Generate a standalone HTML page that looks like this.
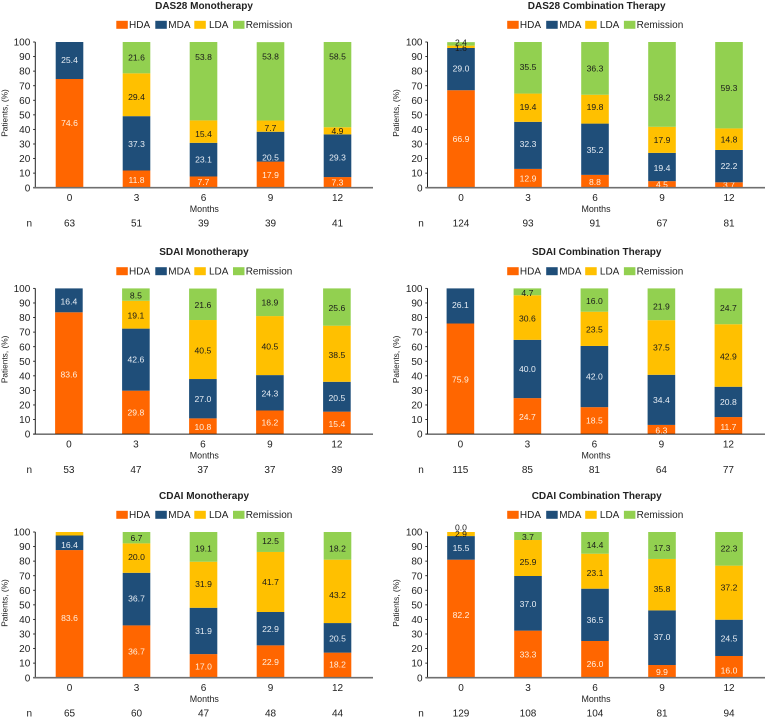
<!DOCTYPE html>
<html>
<head>
<meta charset="utf-8">
<title>Disease activity by therapy</title>
<style>
html,body{margin:0;padding:0;background:#fff;width:765px;height:719px;overflow:hidden}
svg{display:block;filter:blur(.3px)}
text{font-family:"Liberation Sans",Arial,sans-serif;fill:#222}
</style>
</head>
<body>
<svg id="figure" xmlns="http://www.w3.org/2000/svg" width="765" height="719" viewBox="0 0 765 719"></svg>
<script>
const months = ['0', '3', '6', '9', '12'];
const yTicks = [0, 10, 20, 30, 40, 50, 60, 70, 80, 90, 100];
const seriesNames = ['HDA', 'MDA', 'LDA', 'Remission'];

const dasMonoHda = [74.6, 11.8, 7.7, 17.9, 7.3];
const dasMonoMda = [25.4, 37.3, 23.1, 20.5, 29.3];
const dasMonoLda = [0, 29.4, 15.4, 7.7, 4.9];
const dasMonoRem = [0, 21.6, 53.8, 53.8, 58.5];
const dasMonoN = [63, 51, 39, 39, 41];

const dasComboHda = [66.9, 12.9, 8.8, 4.5, 3.7];
const dasComboMda = [29.0, 32.3, 35.2, 19.4, 22.2];
const dasComboLda = [1.6, 19.4, 19.8, 17.9, 14.8];
const dasComboRem = [2.4, 35.5, 36.3, 58.2, 59.3];
const dasComboN = [124, 93, 91, 67, 81];

const sdaiMonoHda = [83.6, 29.8, 10.8, 16.2, 15.4];
const sdaiMonoMda = [16.4, 42.6, 27.0, 24.3, 20.5];
const sdaiMonoLda = [0, 19.1, 40.5, 40.5, 38.5];
const sdaiMonoRem = [0, 8.5, 21.6, 18.9, 25.6];
const sdaiMonoN = [53, 47, 37, 37, 39];

const sdaiComboHda = [75.9, 24.7, 18.5, 6.3, 11.7];
const sdaiComboMda = [24.1, 40.0, 42.0, 34.4, 20.8];
const sdaiComboLda = [0, 30.6, 23.5, 37.5, 42.9];
const sdaiComboRem = [0, 4.7, 16.0, 21.9, 24.7];
const sdaiComboN = [115, 85, 81, 64, 77];
const sdaiComboPrintedMonth0 = ['75.9', '26.1', '', ''];

const cdaiMonoHda = [87.6, 35.9, 16.2, 22.2, 17.2];
const cdaiMonoMda = [10.0, 36.1, 31.8, 22.9, 20.3];
const cdaiMonoLda = [2.4, 20.2, 31.6, 41.2, 43.5];
const cdaiMonoRem = [0, 7.8, 20.4, 13.7, 19.0];
const cdaiMonoN = [65, 60, 47, 48, 44];
const cdaiMonoPrintedMonth0 = ['83.6', '16.4', '', ''];
const cdaiMonoPrintedMonth3 = ['36.7', '36.7', '20.0', '6.7'];
const cdaiMonoPrintedMonth6 = ['17.0', '31.9', '31.9', '19.1'];
const cdaiMonoPrintedMonth9 = ['22.9', '22.9', '41.7', '12.5'];
const cdaiMonoPrintedMonth12 = ['18.2', '20.5', '43.2', '18.2'];

const cdaiComboHda = [81.0, 32.3, 25.2, 8.7, 14.9];
const cdaiComboMda = [16.2, 37.5, 35.9, 37.5, 24.9];
const cdaiComboLda = [2.8, 24.7, 24.0, 35.3, 37.1];
const cdaiComboRem = [0, 5.5, 14.9, 18.5, 23.1];
const cdaiComboN = [129, 108, 104, 81, 94];
const cdaiComboPrintedMonth0 = ['82.2', '15.5', '2.9', '0.0'];
const cdaiComboPrintedMonth3 = ['33.3', '37.0', '25.9', '3.7'];
const cdaiComboPrintedMonth6 = ['26.0', '36.5', '23.1', '14.4'];
const cdaiComboPrintedMonth9 = ['9.9', '37.0', '35.8', '17.3'];
const cdaiComboPrintedMonth12 = ['16.0', '24.5', '37.2', '22.3'];

const panels = [
  {slug:'das28-mono', title:'DAS28 Monotherapy', col:0, row:0, s:[dasMonoHda,dasMonoMda,dasMonoLda,dasMonoRem], n:dasMonoN, printed:{},
   nudge:[[-10.3,1,0,0,0],[-.5,.5,0,10.7,1.7],[0,2,2.3,2,0],[0,-.5,-24.5,-24.7,-28]]},
  {slug:'das28-combo', title:'DAS28 Combination Therapy', col:1, row:0, s:[dasComboHda,dasComboMda,dasComboLda,dasComboRem], n:dasComboN, printed:{},
   nudge:[[0,0,.7,0,0],[-.7,-1.3,.7,.7,0],[1,-1,-2.3,0,0],[-1.5,-.7,0,13,2.8]]},
  {slug:'sdai-mono', title:'SDAI Monotherapy', col:0, row:1, s:[sdaiMonoHda,sdaiMonoMda,sdaiMonoLda,sdaiMonoRem], n:sdaiMonoN, printed:{},
   nudge:[[1,0,.7,0,1],[1,0,0,.7,1.3],[0,.7,1,.8,1.3],[0,.7,.5,0,.7]]},
  {slug:'sdai-combo', title:'SDAI Combination Therapy', col:1, row:1, s:[sdaiComboHda,sdaiComboMda,sdaiComboLda,sdaiComboRem], n:sdaiComboN, printed:{0:sdaiComboPrintedMonth0},
   nudge:[[.7,.7,0,.7,1.3],[-1,0,0,0,0],[0,1,.7,0,.7],[0,1,1,2,1.5]]},
  {slug:'cdai-mono', title:'CDAI Monotherapy', col:0, row:2, s:[cdaiMonoHda,cdaiMonoMda,cdaiMonoLda,cdaiMonoRem], n:cdaiMonoN,
   printed:{0:cdaiMonoPrintedMonth0,1:cdaiMonoPrintedMonth3,2:cdaiMonoPrintedMonth6,3:cdaiMonoPrintedMonth9,4:cdaiMonoPrintedMonth12},
   nudge:[[3.8,0,.5,.5,-.8],[2,-.7,0,0,.5],[0,-1,-.7,0,3.7],[0,0,1.5,-1,2.5]]},
  {slug:'cdai-combo', title:'CDAI Combination Therapy', col:1, row:2, s:[cdaiComboHda,cdaiComboMda,cdaiComboLda,cdaiComboRem], n:cdaiComboN,
   printed:{0:cdaiComboPrintedMonth0,1:cdaiComboPrintedMonth3,2:cdaiComboPrintedMonth6,3:cdaiComboPrintedMonth9,4:cdaiComboPrintedMonth12},
   nudge:[[-3.7,0,4.7,.3,3.7],[0,.7,5,-1,.8],[0,4,1.8,4.3,-5.3],[-4.7,.7,2,2.5,-.5]]}
];

const NS = 'http://www.w3.org/2000/svg';
const colors = ['#FF6600', '#1F4E79', '#FFC000', '#92D050'];
const labelColors = ['#FFF0E0', '#E8EEF5', '#1a1a1a', '#1a1a1a'];
const rowDy = [0, 246.4, 490];
const svg = document.getElementById('figure');

function make(parent, tag, attrs, txt) {
  const e = document.createElementNS(NS, tag);
  for (const k in attrs) e.setAttribute(k, attrs[k]);
  if (txt !== undefined) e.textContent = txt;
  parent.appendChild(e);
  return e;
}

panels.forEach(function (p) {
  const dy = rowDy[p.row];
  const right = p.col === 1;
  const axisX = right ? 427.5 : 35.3;
  const cx0 = (right ? 461 : 69.5) - (p.row === 1 ? 0.6 : 0);
  const step = 67;
  const barW = 27.6;
  const xOff = right ? 391.5 : 0;
  const yBase = 187.7 + dy;
  const yTop = 42 + dy;
  const yScale = function (v) { return yBase - (yBase - yTop) * v / 100; };
  const xScale = function (i) { return cx0 + i * step; };

  const g = make(svg, 'g', {});
  
  

  const title = make(g, 'text', {x: right ? 596.7 : 204, y: 5.2 + dy, dy: '0.36em', 'text-anchor': 'middle', 'font-size': 10, 'font-weight': 'bold'}, p.title);
  
  

  const swatchX = [116.3, 155.3, 194.3, 233];
  const legendTextX = [129, 168.3, 209, 245.7];
  seriesNames.forEach(function (name, k) {
    const sw = make(g, 'rect', {x: swatchX[k] + xOff - (right ? 0.6 : 0), y: 20.8 + dy, width: 11.5, height: 8, fill: colors[k]});
    
    
    const lt = make(g, 'text', {x: legendTextX[k] + xOff - (right ? 0.6 : 0), y: 24.5 + dy, dy: '0.36em', 'font-size': 10}, name);
    
    
  });

  yTicks.forEach(function (t) {
    const tick = make(g, 'line', {x1: axisX - 2.2, x2: axisX, y1: yScale(t), y2: yScale(t), stroke: '#222', 'stroke-width': 0.9});
    
    
    const tl = make(g, 'text', {x: axisX - 5, y: yScale(t), dy: '0.36em', 'text-anchor': 'end', 'font-size': 10}, String(t));
    
    
  });

  const yTitleX = right ? 396 : 4.5;
  const yTitle = make(g, 'text', {x: yTitleX, y: 113 + dy, dy: '0.36em', transform: 'rotate(-90 ' + yTitleX + ' ' + (113 + dy) + ')', 'text-anchor': 'middle', 'font-size': 8.3}, 'Patients, (%)');
  
  

  months.forEach(function (m, i) {
    const cx = xScale(i);
    let cum = 0;
    p.s.forEach(function (series, k) {
      const v = series[i];
      const lo = cum;
      const hi = Math.min(100, cum + v);
      cum = hi;
      const y0 = yScale(lo);
      const y1 = yScale(hi);
      if (v > 0) {
        const bar = make(g, 'rect', {x: cx - barW / 2, y: y1, width: barW, height: Math.max(0, y0 - y1), fill: colors[k]});
        
        
      }
      let label = v > 0 ? v.toFixed(1) : '';
      if (p.printed[i]) label = p.printed[i][k];
      if (label !== '') {
        const dl = make(g, 'text', {x: cx, y: (y0 + y1) / 2 + p.nudge[k][i], dy: '0.36em', 'text-anchor': 'middle', 'font-size': 8.6}, label);
        dl.style.fill = labelColors[k];
        
        
      }
    });
    const xl = make(g, 'text', {x: cx, y: 197.5 + dy, dy: '0.36em', 'text-anchor': 'middle', 'font-size': 10}, m);
    
    
    const nl = make(g, 'text', {x: cx, y: 222.8 + dy, dy: '0.36em', 'text-anchor': 'middle', 'font-size': 10}, String(p.n[i]));
    
    
  });

  const yAxis = make(g, 'line', {x1: axisX, x2: axisX, y1: yTop, y2: yBase, stroke: '#222', 'stroke-width': 1});
  
  

  const midRow = p.row === 1;
  const xAxis = make(g, 'line', {x1: axisX - 2, x2: right ? 765 : 373, y1: yBase, y2: yBase, stroke: midRow ? '#222' : '#6f6f6f', 'stroke-width': midRow ? 1 : 1.6});
  
  

  const xTitle = make(g, 'text', {x: right ? 596 : 204.3, y: 208.8 + dy, dy: '0.36em', 'text-anchor': 'middle', 'font-size': 8.9}, 'Months');
  
  

  const nHead = make(g, 'text', {x: right ? 421 : 29.3, y: 222.8 + dy, dy: '0.36em', 'text-anchor': 'middle', 'font-size': 10}, 'n');
  
  
});
</script>
</body>
</html>
